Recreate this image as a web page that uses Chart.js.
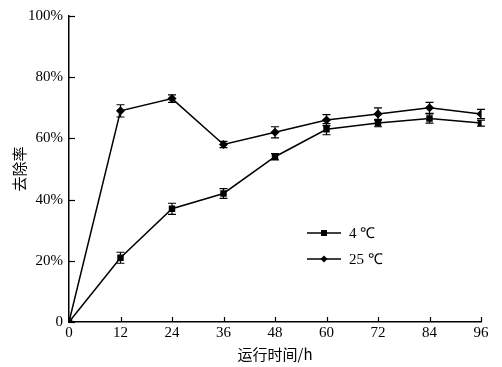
<!DOCTYPE html>
<html>
<head>
<meta charset="utf-8">
<script src="https://cdn.jsdelivr.net/npm/chart.js@4.4.0/dist/chart.umd.min.js"></script>
<style>
  html, body { margin: 0; padding: 0; background: #fff; }
  #wrap { width: 502px; height: 367px; }
</style>
</head>
<body>
<div id="wrap"><canvas id="grafico"></canvas></div>
<script>
// dados
const horas = [0, 12, 24, 36, 48, 60, 72, 84, 96];
const taxa4 = [0, 21, 37, 42, 54, 63, 65, 66.5, 65];
const erro4 = [0, 1.8, 1.8, 1.6, 1, 1.8, 1.2, 1.5, 1];
const taxa25 = [0, 69, 73, 58, 62, 66, 68, 70, 68];
const erro25 = [0, 2, 1.2, 1, 1.8, 1.8, 2, 1.8, 1.5];
const legendas = ['4 ℃', '25 ℃'];
const tituloX = '运行时间/h';
const tituloY = '去除率';

const serif = "'Liberation Serif', 'Times New Roman', serif";
const cjk = "'Noto Sans CJK SC', sans-serif";

// barras de erro + marcas para dentro + legenda interna
const extras = {
  id: 'extras',
  afterDatasetsDraw(chart) {
    const { ctx, scales: { x, y }, chartArea } = chart;
    ctx.save();
    ctx.strokeStyle = '#000';
    ctx.lineWidth = 1.2;

    // ticks internos
    x.ticks.forEach(t => {
      const px = Math.round(x.getPixelForValue(t.value)) + 0.5;
      ctx.beginPath();
      ctx.moveTo(px, chartArea.bottom);
      ctx.lineTo(px, chartArea.bottom - 5);
      ctx.stroke();
    });
    y.ticks.forEach(t => {
      const py = Math.round(y.getPixelForValue(t.value)) + 0.5;
      ctx.beginPath();
      ctx.moveTo(chartArea.left, py);
      ctx.lineTo(chartArea.left + 6, py);
      ctx.stroke();
    });

    // barras de erro
    const erros = [erro4, erro25];
    chart.data.datasets.forEach((ds, i) => {
      ds.data.forEach((v, j) => {
        const e = erros[i][j];
        if (!e) return;
        const px = x.getPixelForValue(horas[j]);
        const top = y.getPixelForValue(v + e);
        const bot = y.getPixelForValue(v - e);
        ctx.beginPath();
        ctx.moveTo(px, top); ctx.lineTo(px, bot);
        ctx.moveTo(px - 4, top); ctx.lineTo(px + 4, top);
        ctx.moveTo(px - 4, bot); ctx.lineTo(px + 4, bot);
        ctx.stroke();
      });
    });

    // legenda
    const lx = 307, ly = [233, 259];
    ctx.font = '15px ' + serif;
    ctx.fillStyle = '#000';
    ctx.textBaseline = 'middle';
    legendas.forEach((txt, i) => {
      ctx.lineWidth = 1.5;
      ctx.beginPath();
      ctx.moveTo(lx, ly[i]); ctx.lineTo(lx + 34, ly[i]);
      ctx.stroke();
      const cx = lx + 17;
      ctx.beginPath();
      if (i === 0) {
        ctx.rect(cx - 3, ly[i] - 3, 6, 6);
      } else {
        ctx.moveTo(cx, ly[i] - 3.5); ctx.lineTo(cx + 3.5, ly[i]);
        ctx.lineTo(cx, ly[i] + 3.5); ctx.lineTo(cx - 3.5, ly[i]);
        ctx.closePath();
      }
      ctx.fill();
      ctx.fillText(txt, lx + 42, ly[i] + 1);
    });
    ctx.restore();
  }
};

new Chart(document.getElementById('grafico'), {
  type: 'line',
  data: {
    labels: horas,
    datasets: [
      {
        label: legendas[0],
        data: taxa4,
        borderColor: '#000',
        backgroundColor: '#000',
        borderWidth: 1.5,
        pointStyle: 'rect',
        pointRadius: 3.5,
        tension: 0
      },
      {
        label: legendas[1],
        data: taxa25,
        borderColor: '#000',
        backgroundColor: '#000',
        borderWidth: 1.5,
        pointStyle: 'rectRot',
        pointRadius: 3.5,
        tension: 0
      }
    ]
  },
  options: {
    responsive: true,
    maintainAspectRatio: false,
    animation: false,
    layout: { padding: { top: 16, right: 21, left: 0, bottom: 0 } },
    plugins: {
      legend: { display: false },
      tooltip: { enabled: false }
    },
    scales: {
      x: {
        type: 'linear',
        min: 0, max: 96,
        afterFit: s => { s.height = 45; },
        ticks: { stepSize: 12, color: '#000', padding: 2, font: { family: serif, size: 15 } },
        grid: { display: false, drawTicks: false },
        border: { color: '#000', width: 1.5 },
        title: { display: true, text: tituloX, color: '#000', padding: { top: 1 }, font: { family: cjk, size: 15 } }
      },
      y: {
        min: 0, max: 100,
        afterFit: s => { s.width = 69; },
        ticks: {
          stepSize: 20, color: '#000', padding: 6,
          font: { family: serif, size: 15 },
          callback: v => v === 0 ? '0' : v + '%'
        },
        grid: { display: false, drawTicks: false },
        border: { color: '#000', width: 1.5 },
        title: { display: true, text: tituloY, color: '#000', padding: { top: 10, bottom: 0 }, font: { family: cjk, size: 15 } }
      }
    }
  },
  plugins: [extras]
});
</script>
</body>
</html>
